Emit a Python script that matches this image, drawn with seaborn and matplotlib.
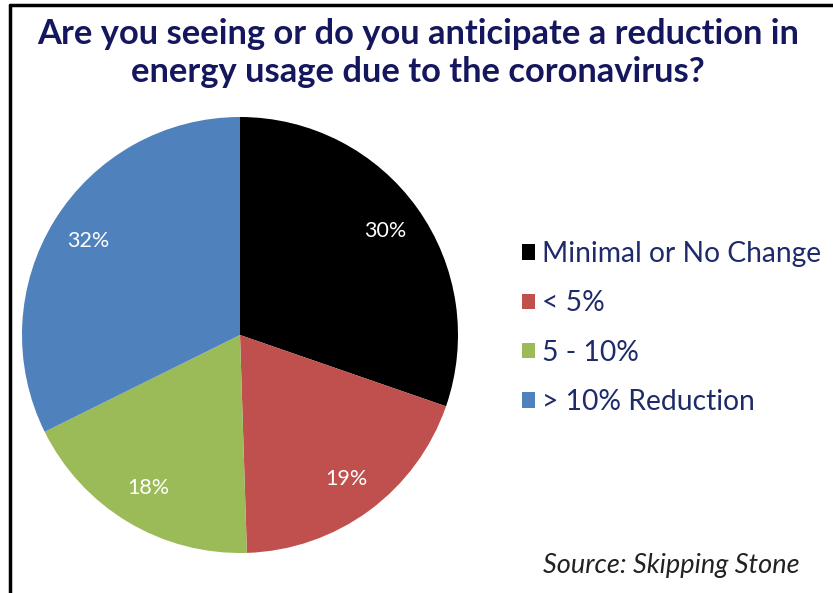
import matplotlib
matplotlib.use("Agg")
import matplotlib.pyplot as plt
import seaborn as sns
from matplotlib.lines import Line2D
from matplotlib.patches import Patch

sns.set_theme(style="white")
plt.rcParams['font.family'] = ['Lato', 'DejaVu Sans']

title = "Are you seeing or do you anticipate a reduction in\nenergy usage due to the coronavirus?"
categories = ["Minimal or No Change", "< 5%", "5 - 10%", "> 10% Reduction"]
values = [30, 19, 18, 32]
colors = ["#000000", "#C0504D", "#9BBB59", "#4F81BD"]
source = "Source: Skipping Stone"

W, H = 833, 593
fig = plt.figure(figsize=(W / 100, H / 100), dpi=100)
fig.patch.set_facecolor("white")

# pie axes: center (240,335), radius 218 px
cx, cy, r = 240, 335, 218
ax = fig.add_axes([(cx - r) / W, (H - cy - r) / H, 2 * r / W, 2 * r / H])
wedges, texts, autotexts = ax.pie(
    values, colors=colors, startangle=90, counterclock=False,
    autopct=lambda p: f"{round(p * sum(values) / 100):.0f}%",
    pctdistance=0.82, radius=1.0,
    wedgeprops=dict(linewidth=0),
    textprops=dict(color="white", fontsize=15.5),
)
ax.set_xlim(-1, 1)
ax.set_ylim(-1, 1)
ax.set_aspect("equal")
ax.axis("off")

fig.text(418 / W, 1 - 53 / H, title, ha="center", va="center",
         fontsize=24.8, fontweight="bold", color="#15175E", linespacing=1.2)

handles = [Patch(facecolor=c, edgecolor="none") for c in colors]
leg = fig.legend(handles, categories, loc="center left",
                 bbox_to_anchor=(497 / W, 1 - 328 / H), frameon=False,
                 fontsize=20.3, handlelength=0.46, handleheight=0.46,
                 handletextpad=0.22, labelspacing=0.83, labelcolor="#1F2A6B")

fig.text(800 / W, 1 - 565 / H, source, ha="right", va="center",
         fontsize=19.5, style="italic", color="#222222")

# frame lines (left and top)
fig.add_artist(Line2D([10 / W, 10 / W], [0, 1 - 5 / H], color="black", lw=2.5,
                      transform=fig.transFigure))
fig.add_artist(Line2D([10 / W, 1], [1 - 5 / H, 1 - 5 / H], color="black", lw=2.5,
                      transform=fig.transFigure))

fig.savefig("out.png", dpi=100, facecolor="white")
